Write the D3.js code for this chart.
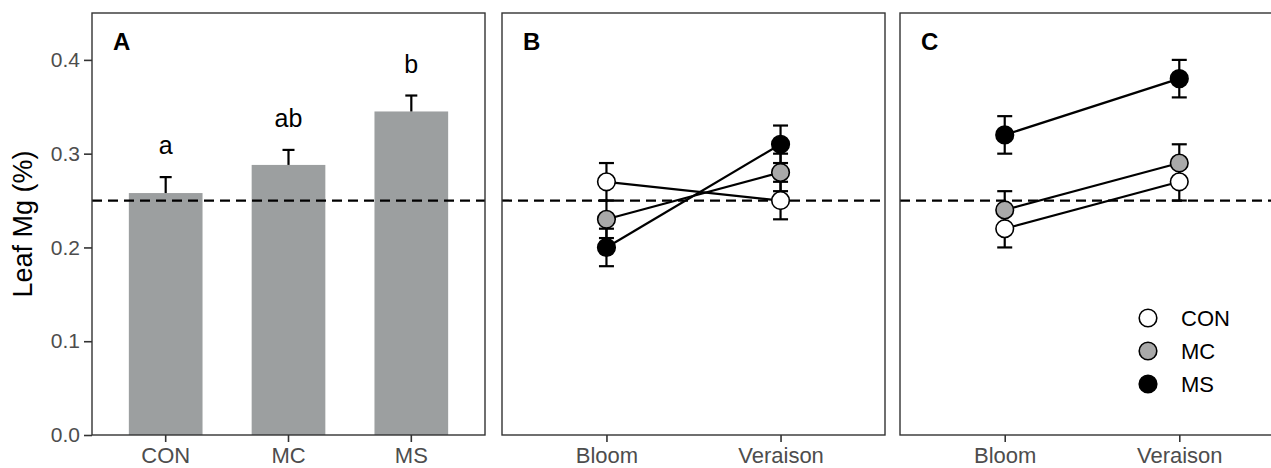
<!DOCTYPE html>
<html>
<head>
<meta charset="utf-8">
<script src="https://cdn.jsdelivr.net/npm/d3@7/dist/d3.min.js"></script>
<style>
  html, body { margin: 0; padding: 0; background: #fff; }
  svg { display: block; font-family: "Liberation Sans", Arial, Helvetica, sans-serif; }
</style>
</head>
<body>
<svg id="chart" width="1271" height="468"></svg>
<script>
// ---------- data ----------
const barCategories = ["CON", "MC", "MS"];
const barMeans = [0.258, 0.288, 0.345];
const barSE = [0.017, 0.016, 0.017];
const barLetters = ["a", "ab", "b"];

const stages = ["Bloom", "Veraison"];
const treatments = ["CON", "MC", "MS"];
const treatmentFills = ["#ffffff", "#a9a9a9", "#000000"];

const panelB_CON = [0.27, 0.25];
const panelB_MC = [0.23, 0.28];
const panelB_MS = [0.20, 0.31];
const panelB_SE_CON = [0.02, 0.02];
const panelB_SE_MC = [0.02, 0.02];
const panelB_SE_MS = [0.02, 0.02];

const panelC_CON = [0.22, 0.27];
const panelC_MC = [0.24, 0.29];
const panelC_MS = [0.32, 0.38];
const panelC_SE_CON = [0.02, 0.02];
const panelC_SE_MC = [0.02, 0.02];
const panelC_SE_MS = [0.02, 0.02];

const yTicks = [0.0, 0.1, 0.2, 0.3, 0.4];
const yDomain = [0, 0.45];
const threshold = 0.25;
const panelLabels = ["A", "B", "C"];
const yTitle = "Leaf Mg (%)";

// ---------- layout ----------
const svg = d3.select("#chart");
const plotTop = 13, plotBottom = 435;
const panels = [
  { x0: 92, x1: 485 },
  { x0: 502, x1: 885 },
  { x0: 900, x1: 1284 }
];
const y = d3.scaleLinear().domain(yDomain).range([plotBottom, plotTop]);
const tickColor = "#4d4d4d";
const borderColor = "#333333";
const FONT = "Liberation Sans, Arial, sans-serif";
const LW = 2.2;

function drawFrame(p) {
  svg.append("rect")
    .attr("x", p.x0).attr("y", plotTop)
    .attr("width", p.x1 - p.x0).attr("height", plotBottom - plotTop)
    .attr("fill", "none").attr("stroke", borderColor).attr("stroke-width", 1.4);
}
function drawThreshold(p) {
  svg.append("line")
    .attr("x1", p.x0).attr("x2", p.x1)
    .attr("y1", y(threshold)).attr("y2", y(threshold))
    .attr("stroke", "#000").attr("stroke-width", 2.3)
    .attr("stroke-dasharray", "10,6");
}
function drawXAxis(scale) {
  const g = svg.append("g").attr("transform", `translate(0,${plotBottom})`)
    .call(d3.axisBottom(scale).tickSize(7).tickPadding(5));
  g.select(".domain").remove();
  g.selectAll(".tick line").attr("stroke", borderColor).attr("stroke-width", 1.6);
  g.selectAll(".tick text").attr("fill", tickColor).attr("font-size", 22)
    .attr("font-family", FONT);
}
function drawPanelLabel(p, txt) {
  svg.append("text").attr("x", p.x0 + 21).attr("y", 50)
    .attr("font-size", 24).attr("font-weight", "bold").attr("fill", "#000")
    .text(txt);
}

// ---------- Panel A ----------
const pA = panels[0];
const xA = d3.scaleBand().domain(barCategories).range([pA.x0, pA.x1])
  .paddingInner(0.4).paddingOuter(0.3);

const gy = svg.append("g").attr("transform", `translate(${pA.x0},0)`)
  .call(d3.axisLeft(y).tickValues(yTicks).tickFormat(d3.format(".1f")).tickSize(8).tickPadding(4));
gy.select(".domain").remove();
gy.selectAll(".tick line").attr("stroke", borderColor).attr("stroke-width", 1.6);
gy.selectAll(".tick text").attr("fill", tickColor).attr("font-size", 21)
  .attr("font-family", FONT);

svg.append("text")
  .attr("transform", `translate(32,${(plotTop + plotBottom) / 2}) rotate(-90)`)
  .attr("text-anchor", "middle").attr("font-size", 27).attr("fill", "#000")
  .text(yTitle);

const barData = barCategories.map((c, i) => ({ c, m: barMeans[i], se: barSE[i], l: barLetters[i] }));
svg.append("g").selectAll("rect").data(barData).join("rect")
  .attr("x", d => xA(d.c)).attr("width", xA.bandwidth())
  .attr("y", d => y(d.m)).attr("height", d => y(0) - y(d.m))
  .attr("fill", "#9c9fa0");
const eb = svg.append("g").attr("stroke", "#000").attr("stroke-width", LW);
barData.forEach(d => {
  const cx = xA(d.c) + xA.bandwidth() / 2;
  eb.append("line").attr("x1", cx).attr("x2", cx).attr("y1", y(d.m)).attr("y2", y(d.m + d.se));
  eb.append("line").attr("x1", cx - 6).attr("x2", cx + 6).attr("y1", y(d.m + d.se)).attr("y2", y(d.m + d.se));
});
svg.append("g").selectAll("text").data(barData).join("text")
  .attr("x", d => xA(d.c) + xA.bandwidth() / 2)
  .attr("y", d => y(d.m + d.se) - 23)
  .attr("text-anchor", "middle").attr("font-size", 25).attr("fill", "#000")
  .text(d => d.l);
drawThreshold(pA);
drawFrame(pA);
drawXAxis(xA);
drawPanelLabel(pA, panelLabels[0]);

// ---------- Panels B and C ----------
function linePanel(p, label, series) {
  const x = d3.scalePoint().domain(stages).range([p.x0, p.x1]).padding(0.6);
  drawThreshold(p);
  const g = svg.append("g");
  series.forEach(s => {
    s.vals.forEach((v, i) => {
      const cx = x(stages[i]);
      const lo = y(v - s.se[i]), hi = y(v + s.se[i]);
      g.append("line").attr("x1", cx).attr("x2", cx).attr("y1", lo).attr("y2", hi)
        .attr("stroke", "#000").attr("stroke-width", LW);
      [lo, hi].forEach(yy => g.append("line").attr("x1", cx - 7.5).attr("x2", cx + 7.5)
        .attr("y1", yy).attr("y2", yy).attr("stroke", "#000").attr("stroke-width", LW));
    });
  });
  const line = d3.line().x((d, i) => x(stages[i])).y(d => y(d));
  series.forEach(s => {
    g.append("path").attr("d", line(s.vals)).attr("fill", "none")
      .attr("stroke", "#000").attr("stroke-width", LW);
  });
  series.forEach(s => {
    g.selectAll(null).data(s.vals).join("circle")
      .attr("cx", (d, i) => x(stages[i])).attr("cy", d => y(d))
      .attr("r", 8.8).attr("fill", s.fill).attr("stroke", "#000").attr("stroke-width", 1.6);
  });
  drawFrame(p);
  drawXAxis(x);
  drawPanelLabel(p, label);
}

linePanel(panels[1], panelLabels[1], [
  { vals: panelB_MS, se: panelB_SE_MS, fill: treatmentFills[2] },
  { vals: panelB_MC, se: panelB_SE_MC, fill: treatmentFills[1] },
  { vals: panelB_CON, se: panelB_SE_CON, fill: treatmentFills[0] }
]);
linePanel(panels[2], panelLabels[2], [
  { vals: panelC_MS, se: panelC_SE_MS, fill: treatmentFills[2] },
  { vals: panelC_MC, se: panelC_SE_MC, fill: treatmentFills[1] },
  { vals: panelC_CON, se: panelC_SE_CON, fill: treatmentFills[0] }
]);

// ---------- Legend ----------
const legend = svg.append("g").attr("transform", "translate(1148,318)");
treatments.forEach((t, i) => {
  legend.append("circle").attr("cx", 0).attr("cy", i * 33).attr("r", 8.8)
    .attr("fill", treatmentFills[i]).attr("stroke", "#000").attr("stroke-width", 1.6);
  legend.append("text").attr("x", 33).attr("y", i * 33).attr("dy", "0.36em")
    .attr("font-size", 22).attr("fill", "#000").text(t);
});
</script>
</body>
</html>
